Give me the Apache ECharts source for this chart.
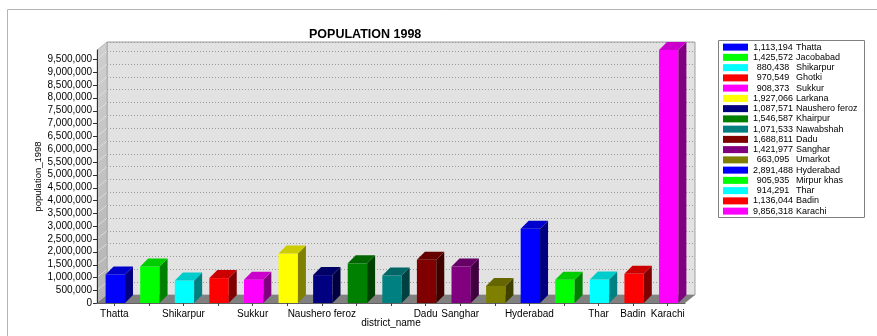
<!DOCTYPE html>
<html>
<head>
<meta charset="utf-8">
<script src="https://cdn.jsdelivr.net/npm/echarts@6/dist/echarts.min.js"></script>
<style>
html,body{margin:0;padding:0;background:#fff;}
#chart{width:877px;height:336px;}
</style>
</head>
<body>
<div id="chart"></div>
<script>
const districts = ['Thatta','Jacobabad','Shikarpur','Ghotki','Sukkur','Larkana','Naushero feroz','Khairpur','Nawabshah','Dadu','Sanghar','Umarkot','Hyderabad','Mirpur khas','Thar','Badin','Karachi'];
const population = [1113194,1425572,880438,970549,908373,1927066,1087571,1546587,1071533,1688811,1421977,663095,2891488,905935,914291,1136044,9856318];
const barColors = ['#0000ff','#00ff00','#00ffff','#ff0000','#ff00ff','#ffff00','#000080','#008000','#008080','#800000','#800080','#808000','#0000ff','#00ff00','#00ffff','#ff0000','#ff00ff'];
const shownLabels = [0,2,4,6,9,10,12,14,15,16];
const yMax = 9860000;
const yStep = 500000;

const FONT = "'Liberation Sans', Arial, sans-serif";
const DX = 10, DY = 8;       // wall depth
const BDX = 8, BDY = 8;      // bar depth

function fmt(n){ return String(n).replace(/\B(?=(\d{3})+(?!\d))/g, ','); }
function shade(hex, k){
  const r = parseInt(hex.substr(1,2),16), g = parseInt(hex.substr(3,2),16), b = parseInt(hex.substr(5,2),16);
  const f = v => Math.round(v*k).toString(16).padStart(2,'0');
  return '#' + f(r) + f(g) + f(b);
}

function makeBarRenderer(color){
  return function(params, api){
    const i = api.value(0), v = api.value(1);
    const base = api.coord([i, 0]);
    const top = api.coord([i, v]);
    const w = api.size([1, 0])[0] * 0.56;
    const x0 = base[0] - w/2 + 1, x1 = x0 + w;
    const yb = base[1], yt = top[1];
    return {type:'group', children:[
      {type:'rect', shape:{x:x0, y:yt, width:w, height:yb-yt}, style:{fill:color}},
      {type:'polygon', shape:{points:[[x1,yb],[x1+BDX,yb-BDY],[x1+BDX,yt-BDY],[x1,yt]]}, style:{fill:shade(color,0.5)}},
      {type:'polygon', shape:{points:[[x0,yt],[x1,yt],[x1+BDX,yt-BDY],[x0+BDX,yt-BDY]]}, style:{fill:shade(color,0.8)}}
    ]};
  };
}

function renderWalls(params, api){
  const cs = params.coordSys;
  const x0 = cs.x, x1 = cs.x + cs.width, yT = cs.y, yB = cs.y + cs.height;
  const children = [
    {type:'polygon', shape:{points:[[x0,yT],[x0+DX,yT-DY],[x0+DX,yB-DY],[x0,yB]]},
      style:{fill:{type:'linear',x:0,y:0,x2:0,y2:1,colorStops:[{offset:0,color:'#cfcfcf'},{offset:1,color:'#b4b4b4'}]}, stroke:'#9a9a9a', lineWidth:0.6}},
    {type:'polygon', shape:{points:[[x0,yB],[x1,yB],[x1+DX,yB-DY],[x0+DX,yB-DY]]}, style:{fill:'#808080'}}
  ];
  for (let v = 0; v < yMax; v += yStep){
    const p = api.coord([0, v]);
    const y = Math.round(p[1]) + 0.5;
    if (v > 0) children.push({type:'line', shape:{x1:x0, y1:p[1], x2:x0+DX, y2:p[1]-DY}, style:{stroke:'#e6e6e6', lineWidth:0.7}});
    children.push({type:'line', z2:10, shape:{x1:x0-4, y1:y, x2:x0, y2:y}, style:{stroke:'#303030', lineWidth:1}});
  }
  return {type:'group', children};
}

const barSeries = districts.map((d, i) => ({
  type:'custom', name:d, xAxisIndex:0, yAxisIndex:0, z:3,
  data:[[i, population[i]]], encode:{x:0, y:1},
  itemStyle:{color:barColors[i]},
  renderItem: makeBarRenderer(barColors[i]),
  silent:true
}));

const chart = echarts.init(document.getElementById('chart'), null, {renderer:'canvas'});
chart.setOption({
  animation:false,
  backgroundColor:'#ffffff',
  textStyle:{fontFamily:FONT},
  title:{text:'POPULATION 1998', left:304, top:23,
    textStyle:{fontFamily:FONT, fontSize:12.5, fontWeight:'bold', color:'#000'}},
  grid:[
    {left:97, right:192, top:50, bottom:33, containLabel:false, outerBoundsMode:'none'},
    {left:97+DX, right:192-DX, top:50-DY, bottom:33+DY, show:true, backgroundColor:'#e2e2e2', borderColor:'#a0a0a0', borderWidth:1, z:0, outerBoundsMode:'none'}
  ],
  xAxis:[
    {type:'category', gridIndex:0, data:districts, boundaryGap:true,
      axisLine:{show:true, lineStyle:{color:'#606060', width:1}},
      axisTick:{show:true, alignWithLabel:true, interval:0, length:3, lineStyle:{color:'#404040'}},
      axisLabel:{interval:(idx)=>shownLabels.indexOf(idx) >= 0, margin:6, fontSize:10, color:'#000', fontFamily:FONT},
      name:'district_name', nameLocation:'middle', nameGap:15, nameMoveOverlap:false,
      nameTextStyle:{fontSize:10, color:'#000', fontFamily:FONT}, z:4},
    {type:'category', gridIndex:1, data:districts, show:false}
  ],
  yAxis:[
    {type:'value', gridIndex:0, min:0, max:yMax, interval:yStep,
      axisLine:{show:true, lineStyle:{color:'#303030', width:1}},
      axisTick:{show:false},
      axisLabel:{fontSize:10, color:'#000', margin:5, fontFamily:FONT,
        formatter:(v)=> (v % yStep === 0 ? fmt(v) : '')},
      splitLine:{show:false},
      name:'population_1998', nameLocation:'middle', nameGap:54, nameMoveOverlap:false,
      nameTextStyle:{fontSize:9.5, color:'#000', fontFamily:FONT}, z:4},
    {type:'value', gridIndex:1, min:0, max:yMax, interval:yStep,
      axisLine:{show:false}, axisTick:{show:false}, axisLabel:{show:false},
      splitLine:{show:true, lineStyle:{color:'#9a9a9a', type:[1,2], width:1}}}
  ],
  legend:{
    orient:'vertical', left:723, top:42, padding:0, itemGap:0,
    icon:'rect', itemWidth:25, itemHeight:7,
    data:districts,
    selectedMode:false,
    formatter:(name)=>{
      const i = districts.indexOf(name);
      return '{v|' + fmt(population[i]) + '}{n|' + name + '}';
    },
    textStyle:{fontFamily:FONT, fontSize:9, color:'#000', lineHeight:10.25,
      rich:{
        v:{width:40, align:'right', fontSize:9, lineHeight:10.25, fontFamily:FONT, color:'#000'},
        n:{fontSize:9, lineHeight:10.25, fontFamily:FONT, color:'#000', padding:[0,0,0,3]}
      }}
  },
  graphic:[
    {type:'rect', z:-10, shape:{x:7.5, y:9.5, width:1000, height:1000}, style:{fill:'none', stroke:'#b4b4b4', lineWidth:1}},
    {type:'rect', z:-5, shape:{x:718.5, y:40.5, width:146, height:177}, style:{fill:'#fff', stroke:'#808080', lineWidth:1}}
  ],
  series:[
    {type:'custom', name:'walls', xAxisIndex:0, yAxisIndex:0, z:1, silent:true,
      data:[[0,0]], encode:{x:0, y:1}, renderItem:renderWalls}
  ].concat(barSeries)
});
</script>
</body>
</html>
